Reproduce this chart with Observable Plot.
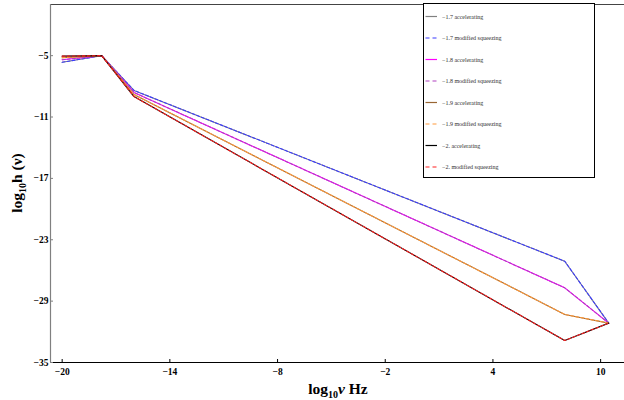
<!DOCTYPE html>
<html><head><meta charset="utf-8">
<script src="https://cdn.jsdelivr.net/npm/d3@7"></script>
<script src="https://cdn.jsdelivr.net/npm/@observablehq/plot@0.6"></script>
<style>
body{margin:0;background:#fff;}
#chart{position:relative;width:624px;height:400px;font-family:"Liberation Serif","Times New Roman",serif;}
#legend{position:absolute;left:423px;top:3px;width:172px;height:175px;border:1.2px solid #000;background:#fff;box-sizing:border-box;}
</style></head><body><div id="chart"></div>
<script>
// ---- data ----
const xPoints = [-20, -17.8, -16, 8, 10.45];
const params = ["−1.7", "−1.8", "−1.9", "−2."];
const y17 = [-5.65, -5.0, -8.4, -25.1, -31.15];
const y18 = [-5.4, -5.0, -8.6, -27.7, -31.15];
const y19 = [-5.2, -5.0, -8.8, -30.3, -31.15];
const y20 = [-5.05, -5.0, -9.0, -32.85, -31.15];
const kinds = ["accelerating", "modified squeezing"];
const accelColors = ["#808080", "#ff00ff", "#996633", "#000000"];
const squeezeColors = ["#3a3aff", "#b040c0", "#ff9a3c", "#ff2020"];
const xTicks = [-20, -14, -8, -2, 4, 10];
const yTicks = [-35, -29, -23, -17, -11, -5];
const xDomain = [-20.65, 11.33];
const yDomain = [-35, 0];

const ySeries = [y17, y18, y19, y20];
const rows = [];
params.forEach((p, i) => {
  kinds.forEach(k => {
    xPoints.forEach((x, j) => rows.push({param: p, kind: k, x, y: ySeries[i][j]}));
  });
});

const fmt = d => String(d).replace("-", "−");
const lineMarks = [];
params.forEach((p, i) => {
  lineMarks.push(Plot.line(rows.filter(r => r.param === p && r.kind === kinds[0]),
    {x: "x", y: "y", stroke: accelColors[i], strokeWidth: 1.1}));
  lineMarks.push(Plot.line(rows.filter(r => r.param === p && r.kind === kinds[1]),
    {x: "x", y: "y", stroke: squeezeColors[i], strokeWidth: 1.1, strokeDasharray: "3,2"}));
});

const chart = Plot.plot({
  width: 624, height: 400,
  marginLeft: 50, marginRight: 0, marginTop: 4, marginBottom: 38,
  style: {fontFamily: "'Liberation Serif', 'Times New Roman', serif", background: "#fff"},
  x: {domain: xDomain},
  y: {domain: yDomain},
  marks: [
    Plot.ruleY([yDomain[1]], {stroke: "#444", strokeWidth: 1}),
    ...lineMarks,
    Plot.ruleX([xDomain[0]], {stroke: "#808080", strokeWidth: 1.2}),
    Plot.ruleY([yDomain[0]], {stroke: "#000", strokeWidth: 1.2}),
    Plot.axisX({ticks: xTicks, tickSize: -3, tickPadding: 9, tickFormat: fmt, fontSize: 9.5, fontWeight: "bold", label: null, stroke: "#000"}),
    Plot.axisY({ticks: yTicks, tickSize: -3, tickPadding: 5, tickFormat: fmt, fontSize: 9.5, fontWeight: "bold", label: null, stroke: "#808080"})
  ]
});
const container = document.getElementById("chart");
container.appendChild(chart);

const svg = d3.select(chart);
// y label
const yl = svg.append("text")
  .attr("transform", "translate(22,183) rotate(-90)")
  .attr("text-anchor", "middle")
  .attr("font-size", 15.5).attr("font-weight", "bold").attr("fill", "#000");
yl.append("tspan").text("log");
yl.append("tspan").attr("font-size", 10).attr("dy", 4).text("10");
yl.append("tspan").attr("dy", -4).text("h (ν)");
// x label
const xl = svg.append("text")
  .attr("x", 338).attr("y", 394)
  .attr("text-anchor", "middle")
  .attr("font-size", 15.5).attr("font-weight", "bold").attr("fill", "#000");
xl.append("tspan").text("log");
xl.append("tspan").attr("font-size", 10).attr("dy", 4).text("10");
xl.append("tspan").attr("dy", -4).attr("font-style", "italic").text("ν");
xl.append("tspan").text(" Hz");

// legend
const legend = d3.select(container).append("div").attr("id", "legend");
const lsvg = legend.append("svg").attr("width", 170).attr("height", 173);
let idx = 0;
params.forEach((p, i) => {
  kinds.forEach((k, ki) => {
    const yy = 12.5 + idx * 21.5;
    lsvg.append("line").attr("x1", 1.5).attr("x2", 13).attr("y1", yy).attr("y2", yy)
      .attr("stroke", ki === 0 ? accelColors[i] : squeezeColors[i])
      .attr("stroke-width", 1.2)
      .attr("stroke-dasharray", ki === 0 ? null : "4,3");
    lsvg.append("text").attr("x", 18).attr("y", yy + 2)
      .attr("font-size", 6).attr("fill", "#333")
      .attr("font-family", "'Liberation Serif', serif")
      .text(`${p} ${k}`);
    idx++;
  });
});
</script></body></html>
